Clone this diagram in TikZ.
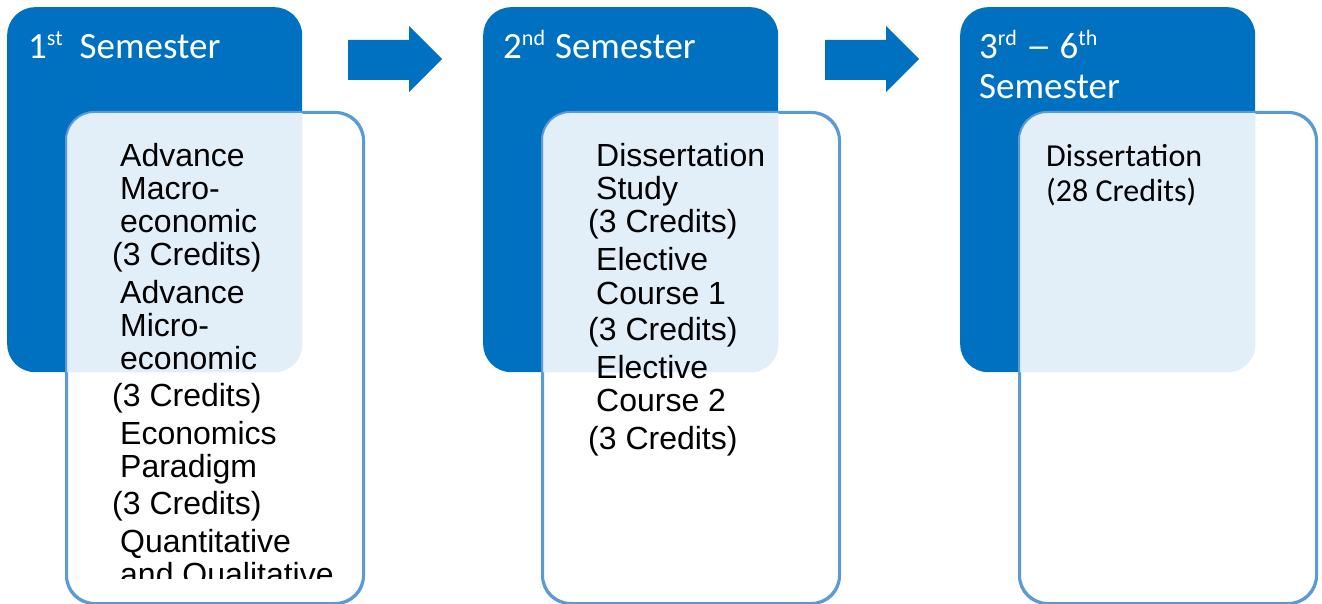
\documentclass[tikz,border=0pt]{standalone}
\usepackage{fontspec}
\setmainfont{Liberation Sans}
\newfontfamily\carlitofont{Carlito}
\definecolor{semblue}{RGB}{0,112,192}
\definecolor{palefill}{RGB}{226,238,248}
\definecolor{edgeblue}{RGB}{91,155,213}
\tikzset{
  sembox/.style={fill=semblue, rounded corners=28pt, minimum width=295pt, minimum height=365pt, inner sep=0pt, anchor=north west},
  listbox/.style={draw=edgeblue, line width=2pt, fill=white, rounded corners=28pt, minimum width=296pt, minimum height=490pt, inner sep=0pt, anchor=north west},
  headtext/.style={anchor=base west, text=white, inner sep=0pt, align=left, font={\carlitofont\fontsize{37pt}{40pt}\selectfont}},
  itemtext/.style={anchor=base west, text=black, inner sep=0pt, align=left, font={\fontsize{32pt}{33pt}\selectfont}},
  dissText/.style={anchor=base west, text=black, inner sep=0pt, align=left, font={\carlitofont\fontsize{32pt}{35pt}\selectfont}},
  blockarrow/.style={fill=semblue}
}
\newcommand{\crd}{\hspace*{-8pt}(3 Credits)}
\newcommand{\supr}[1]{\raisebox{13pt}{\fontsize{22pt}{22pt}\selectfont #1}}
\begin{document}
\begin{tikzpicture}[x=1pt,y=-1pt]
\useasboundingbox (0,0) rectangle (1322,604);
% panels
\foreach \i/\dx in {1/0,2/476,3/953}{
  \node[sembox] (sem\i) at (7+\dx,7) {};
  \node[listbox] (lst\i) at (66+\dx,112) {};
  \begin{scope}
    \clip[rounded corners=28pt] (lst\i.north west) rectangle (lst\i.south east);
    \fill[palefill, rounded corners=28pt] (sem\i.north west) rectangle (sem\i.south east);
  \end{scope}
  \draw[edgeblue, line width=2pt, rounded corners=28pt] (lst\i.north west) rectangle (lst\i.south east);
}
% arrows
\fill[blockarrow] (348,40) -- (409,40) -- (409,26) -- (442,59) -- (409,92) -- (409,80) -- (348,80) -- cycle;
\fill[blockarrow] (825,40) -- (886,40) -- (886,26) -- (919,59) -- (886,92) -- (886,80) -- (825,80) -- cycle;
% headings (base anchor = baseline of the last line)
\node[headtext] (h1) at (28,59) {1\supr{st}\hspace{17pt}Semester};
\node[headtext] (h2) at (503,59) {2\supr{nd}\hspace{10pt}Semester};
\node[headtext] (h3) at (979,99) {3\supr{rd}\hspace{9pt}\scalebox{1.4}[1]{\textendash}\hspace{8pt}6\supr{th}\\[0pt]Semester};
% list texts
\begin{scope}
  \clip (0,0) rectangle (1322,578);
  \node[itemtext] (t1) at (120,585) {Advance\\Macro-\\economic\\\crd\\[5pt]Advance\\Micro-\\economic\\[4pt]\crd\\[5pt]Economics\\Paradigm\\[4pt]\crd\\[5pt]Quantitative\\and Qualitative};
\end{scope}
\node[itemtext] (t2) at (596,449) {Dissertation\\Study\\\crd\\[5pt]Elective\\[1pt]Course 1\\[3pt]\crd\\[5pt]Elective\\Course 2\\[5pt]\crd};
\node[dissText] (t3) at (1046,201) {Dissertation\\(28 Credits)};
\end{tikzpicture}
\end{document}
